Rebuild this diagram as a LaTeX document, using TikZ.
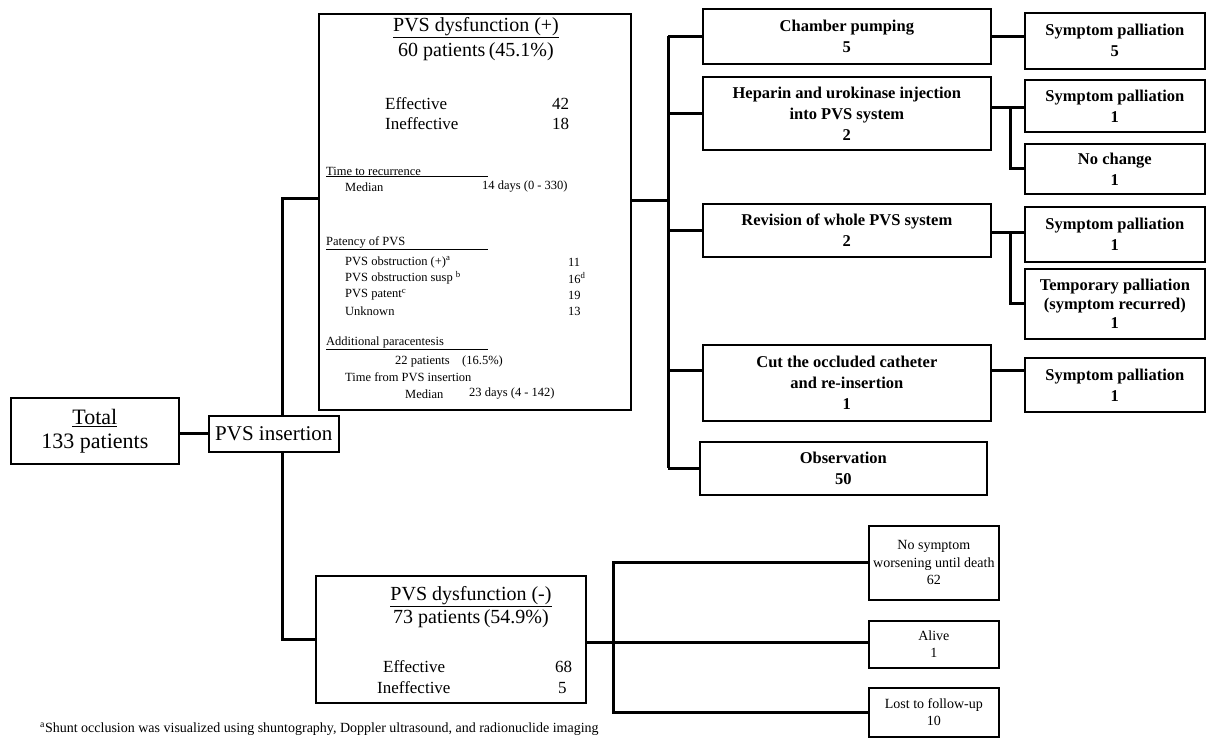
\documentclass[tikz,border=0pt]{standalone}
\usepackage{fontspec}
\setmainfont{Liberation Serif}

\tikzset{
  box/.style={draw, line width=1.7pt, inner sep=0pt, align=center, anchor=north west},
  link/.style={line width=3pt},
  txt/.style={inner sep=0pt, anchor=west},
  huge/.style={font=\fontsize{22}{24}\selectfont},
  big/.style={font=\fontsize{20}{24}\selectfont},
  mid/.style={font=\fontsize{17}{20}\selectfont},
  small/.style={font=\fontsize{12.5}{15}\selectfont},
  trt/.style={font=\fontsize{16.5}{21}\selectfont\bfseries},
  outc/.style={font=\fontsize{14}{17.5}\selectfont},
}

\begin{document}
\begin{tikzpicture}[x=1pt, y=-1pt]
\useasboundingbox (0,0) rectangle (1207,740);

% start
\node[box, huge, minimum width=168pt, minimum height=66pt] (total) at (10,397) {\underline{Total}\\133 patients};
\node[box, font=\fontsize{21}{24}\selectfont, minimum width=130pt, minimum height=36pt] (ins) at (208,415) {PVS insertion};

% PVS dysfunction (+)
\node[box, minimum width=312pt, minimum height=396pt] (dysP) at (318,13) {};
\node[big, inner sep=0pt] (dysPtitle) at (476,28) {\underline{PVS dysfunction (+)}};
\node[big, inner sep=0pt] (dysPnum) at (476,52) {60 patients\,(45.1\%)};
\node[mid, txt] (effP) at (385,104) {Effective};
\node[mid, txt] (effPnum) at (552,104) {42};
\node[mid, txt] (ineffP) at (385,124) {Ineffective};
\node[mid, txt] (ineffPnum) at (552,124) {18};
\node[small, txt] (recurHd) at (326,172) {\underline{\makebox[162pt][l]{Time to recurrence}}};
\node[small, txt] (recurMed) at (345,187) {Median};
\node[small, txt] (recurVal) at (482,187) {14 days (0 - 330)};
\node[small, txt] (patHd) at (326,243) {\underline{\makebox[162pt][l]{Patency of PVS}}};
\node[small, txt] (patObs) at (345,262) {PVS obstruction (+)\textsuperscript{a}};
\node[small, txt] (patObsNum) at (568,262) {11};
\node[small, txt] (patSusp) at (345,278) {PVS obstruction susp \textsuperscript{b}};
\node[small, txt] (patSuspNum) at (568,278) {16\textsuperscript{d}};
\node[small, txt] (patOpen) at (345,295) {PVS patent\textsuperscript{c}};
\node[small, txt] (patOpenNum) at (568,295) {19};
\node[small, txt] (patUnk) at (345,311) {Unknown};
\node[small, txt] (patUnkNum) at (568,311) {13};
\node[small, txt] (paraHd) at (326,343) {\underline{\makebox[162pt][l]{Additional paracentesis}}};
\node[small, txt] (paraNum) at (395,361) {22 patients\quad(16.5\%)};
\node[small, txt] (paraTime) at (345,377) {Time from PVS insertion};
\node[small, txt] (paraMed) at (405,394) {Median};
\node[small, txt] (paraVal) at (469,394) {23 days (4 - 142)};

% PVS dysfunction (-)
\node[box, minimum width=270pt, minimum height=127pt] (dysM) at (315,575) {};
\node[big, inner sep=0pt] (dysMtitle) at (471,597) {\underline{PVS dysfunction (-)}};
\node[big, inner sep=0pt] (dysMnum) at (471,619) {73 patients\,(54.9\%)};
\node[mid, txt] (effM) at (383,667) {Effective};
\node[mid, txt] (effMnum) at (555,667) {68};
\node[mid, txt] (ineffM) at (377,688) {Ineffective};
\node[mid, txt] (ineffMnum) at (558,688) {5};

% treatments
\node[box, trt, minimum width=288pt, minimum height=55pt] (chamber) at (702,8) {Chamber pumping\\5};
\node[box, trt, minimum width=288pt, minimum height=73pt] (heparin) at (702,76) {Heparin and urokinase injection\\into PVS system\\2};
\node[box, trt, minimum width=288pt, minimum height=53pt] (revision) at (702,203) {Revision of whole PVS system\\2};
\node[box, trt, minimum width=288pt, minimum height=76pt] (cut) at (702,344) {Cut the occluded catheter\\and re-insertion\\1};
\node[box, trt, minimum width=287pt, minimum height=53pt] (obs) at (699,441) {Observation\\50};

% outcomes
\node[box, trt, minimum width=180pt, minimum height=56pt] (spA) at (1024,12) {Symptom palliation\\5};
\node[box, trt, minimum width=180pt, minimum height=52pt] (spB) at (1024,79) {Symptom palliation\\1};
\node[box, trt, minimum width=180pt, minimum height=50pt] (nochg) at (1024,143) {No change\\1};
\node[box, trt, minimum width=180pt, minimum height=55pt] (spC) at (1024,206) {Symptom palliation\\1};
\node[box, trt, font=\fontsize{16.5}{19}\selectfont\bfseries, minimum width=180pt, minimum height=70pt] (temp) at (1024,268) {Temporary palliation\\(symptom recurred)\\1};
\node[box, trt, minimum width=180pt, minimum height=54pt] (spD) at (1024,357) {Symptom palliation\\1};
\node[box, outc, minimum width=130pt, minimum height=74pt] (nosym) at (868,525) {No symptom\\worsening until death\\62};
\node[box, outc, minimum width=130pt, minimum height=47pt] (alive) at (868,620) {Alive\\1};
\node[box, outc, minimum width=130pt, minimum height=49pt] (lost) at (868,687) {Lost to follow-up\\10};

% footnote
\node[txt, font=\fontsize{14}{16}\selectfont] (note) at (40,729) {\textsuperscript{a}Shunt occlusion was visualized using shuntography, Doppler ultrasound, and radionuclide imaging};

% connectors
\coordinate (jP) at (282,198);
\coordinate (jM) at (282,639);
\coordinate (bP) at (668,200);
\coordinate (jC) at (668,370);
\coordinate (jH) at (1010,107);
\coordinate (jR) at (1010,232);
\coordinate (bM) at (613,642);
\draw[link] (ins.west) -- (ins.west -| total.east);
\draw[link] (ins.north -| jP) -- (jP) -- (jP -| dysP.west);
\draw[link] (ins.south -| jM) -- (jM) -- (jM -| dysM.west);
\draw[link] (bP -| dysP.east) -- (bP);
\draw[link] (bP |- chamber.west) -- (bP |- obs.west);
\draw[link] (bP |- chamber.west) -- (chamber.west);
\draw[link] (bP |- heparin.west) -- (heparin.west);
\draw[link] (bP |- revision.west) -- (revision.west);
\draw[link] (jC) -- (jC -| cut.west);
\draw[link] (bP |- obs.west) -- (obs.west);
\draw[link] (chamber.east) -- (chamber.east -| spA.west);
\draw[link] (jH -| heparin.east) -- (jH -| spB.west);
\draw[link] (jH) |- (nochg.west);
\draw[link] (jR -| revision.east) -- (jR -| spC.west);
\draw[link] (jR) |- (temp.west);
\draw[link] (jC -| cut.east) -- (jC -| spD.west);
\draw[link] (dysM.east |- bM) -- (bM -| alive.west);
\draw[link] (nosym.west) -| (bM |- lost.west) -- (lost.west);
\end{tikzpicture}
\end{document}
